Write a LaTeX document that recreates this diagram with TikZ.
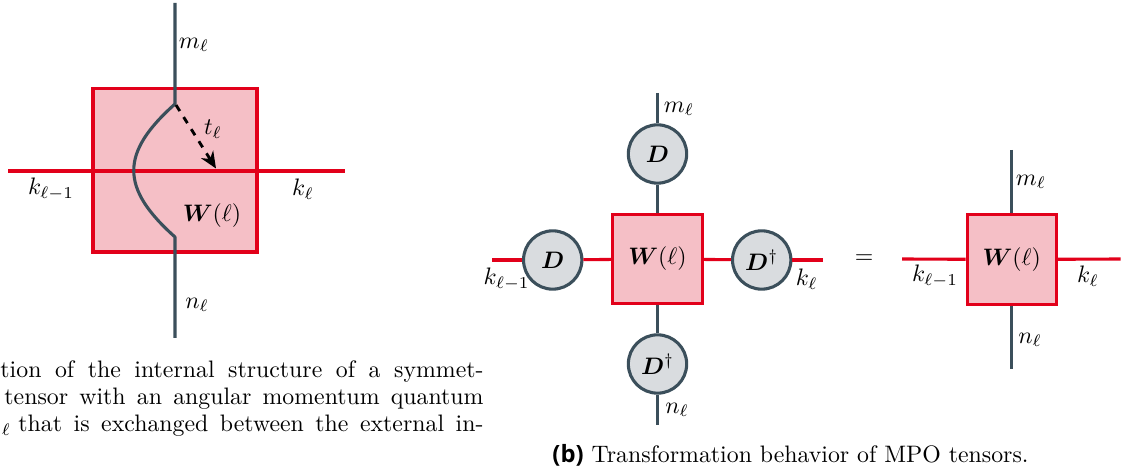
\documentclass[tikz,border=0pt]{standalone}
\usepackage{amsmath,bm}
\usepackage{fontspec}
\newfontfamily\capsf{Open Sans}
\usetikzlibrary{arrows.meta}
\definecolor{slate}{HTML}{3B4F5B}
\definecolor{tred}{HTML}{E2001A}
\definecolor{tpink}{HTML}{F5BFC6}
\definecolor{tgray}{HTML}{D9DCDF}
\tikzset{
  leg/.style={draw=slate, line width=1.3pt},
  redleg/.style={draw=tred, line width=1.3pt},
  tensor/.style={draw=tred, fill=tpink, line width=1.3pt, minimum size=37.5pt, inner sep=0pt, rectangle},
  bigtensor/.style={draw=tred, fill=tpink, line width=1.3pt, minimum width=68.9pt, minimum height=68.5pt, inner sep=0pt, rectangle},
  dnode/.style={draw=slate, fill=tgray, line width=1.3pt, circle, minimum size=24.5pt, inner sep=0pt},
  lbl/.style={inner sep=0pt},
  capline/.style={inner sep=0pt, anchor=base west},
}
\begin{document}
\begin{tikzpicture}[x=0.42pt, y=-0.42pt]
\useasboundingbox (0,0) rectangle (1132,475);
\begin{scope}
\clip (0,0) rectangle (1132,475);
% ---------- (a) ----------
\coordinate (aT) at (175,3);
\coordinate (aB) at (175,338);
\coordinate (aL) at (8,171);
\coordinate (aR) at (345,171);
\node[bigtensor] (A) at (175,170.5) {};
\coordinate (c1) at (175,104);
\coordinate (c2) at (175,237);
\coordinate (tip) at (216,168.5);
\draw[redleg] (aL) -- (aR);
\draw[leg, line join=round] (aT) -- (c1) .. controls (120,153) and (120,188) .. (c2) -- (aB);
\draw[line width=1.2pt, dashed, -{Stealth[length=7pt,width=6pt]}] (176,105) -- (tip);
\node[lbl] (amt) at (194,45) {$m_\ell$};
\node[lbl] (atl) at (213,129) {$t_\ell$};
\node[lbl] (akl1) at (51,189) {$k_{\ell-1}$};
\node[lbl] (akl) at (303,189) {$k_\ell$};
\node[lbl] (aW) at (212,216) {$\bm{W}(\ell)$};
\node[lbl] (anl) at (197,305) {$n_\ell$};
% caption (a), partly cut off
\node[capline] (cap1) at (0,378) {\makebox[202.9pt][s]{tion of the internal structure of a symmet-}};
\node[capline] (cap2) at (4,405) {\makebox[201.2pt][s]{tensor with an angular momentum quantum}};
\node[capline] (cap3s) at (1.5,432) {$_\ell$};
\node[capline] (cap3) at (18,432) {\makebox[195.3pt][s]{that is exchanged between the external in-}};
% ---------- (b) left ----------
\node[tensor] (W) at (657.5,259) {$\bm{W}(\ell)$};
\node[dnode] (Dt) at (657.5,154) {$\bm{D}$};
\node[dnode] (Db) at (657.5,364) {$\bm{D}^\dagger$};
\node[dnode] (Dl) at (552.7,260) {$\bm{D}$};
\node[dnode] (Dr) at (761.7,260) {$\bm{D}^\dagger$};
\coordinate (bT) at (657.5,93);
\coordinate (bB) at (657.5,425);
\coordinate (bL) at (492,260);
\coordinate (bR) at (822.7,260);
\draw[leg] (bT) -- (Dt);
\draw[leg] (Dt) -- (W);
\draw[leg] (W) -- (Db);
\draw[leg] (Db) -- (bB);
\draw[redleg] (bL) -- (Dl);
\draw[redleg] (Dl) -- (W);
\draw[redleg] (W) -- (Dr);
\draw[redleg] (Dr) -- (bR);
\node[lbl] (bm) at (679,109) {$m_\ell$};
\node[lbl] (bkl1) at (506.7,279) {$k_{\ell-1}$};
\node[lbl] (bkl) at (806.7,279) {$k_\ell$};
\node[lbl] (bn) at (677,410) {$n_\ell$};
\node[lbl] (eq) at (864,259) {$=$};
% ---------- (b) right ----------
\node[tensor] (W2) at (1011.7,259.5) {$\bm{W}(\ell)$};
\coordinate (rT) at (1011.7,150);
\coordinate (rB) at (1011.7,369);
\coordinate (rL) at (902,259);
\coordinate (rR) at (1120.7,259);
\draw[leg] (rT) -- (W2);
\draw[leg] (W2) -- (rB);
\draw[redleg] (rL) -- (W2);
\draw[redleg] (W2) -- (rR);
\node[lbl] (rm) at (1031,182) {$m_\ell$};
\node[lbl] (rkl1) at (935,276) {$k_{\ell-1}$};
\node[lbl] (rkl) at (1088,276) {$k_\ell$};
\node[lbl] (rn) at (1030,340) {$n_\ell$};
% caption (b)
\node[capline] (capb) at (552,463) {{\capsf\bfseries (b)} Transformation behavior of MPO tensors.};
\end{scope}
\end{tikzpicture}
\end{document}
